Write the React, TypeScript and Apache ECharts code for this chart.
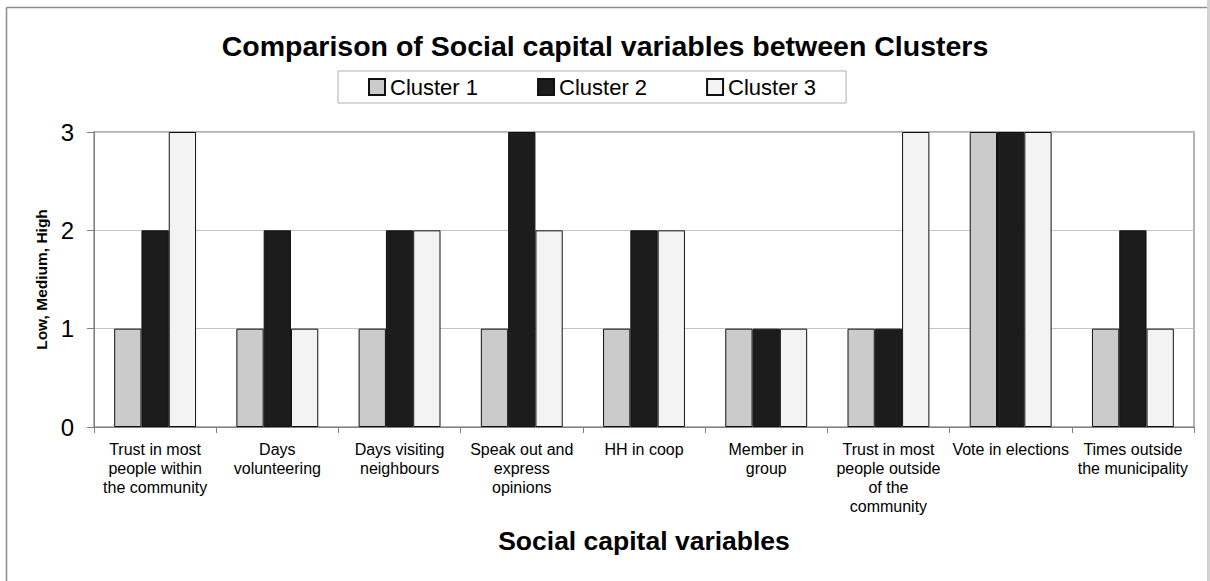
import React, { useEffect, useRef } from "react";
import * as echarts from "echarts";

const categories = [
  "Trust in most\npeople within\nthe community",
  "Days\nvolunteering",
  "Days visiting\nneighbours",
  "Speak out and\nexpress\nopinions",
  "HH in coop",
  "Member in\ngroup",
  "Trust in most\npeople outside\nof the\ncommunity",
  "Vote in elections",
  "Times outside\nthe municipality",
];

const cluster1 = [1, 1, 1, 1, 1, 1, 1, 3, 1];
const cluster2 = [2, 2, 2, 3, 2, 1, 1, 3, 2];
const cluster3 = [3, 1, 2, 2, 2, 1, 3, 3, 1];

const yTicks = [0, 1, 2, 3];

const FONT = "'Liberation Sans', Arial, sans-serif";

export default function App() {
  const ref = useRef<HTMLDivElement>(null);

  useEffect(() => {
    if (!ref.current) return;
    const chart = echarts.init(ref.current, null, { renderer: "svg" });
    const barStyle = (color: string) => ({
      color,
      borderColor: "#111",
      borderWidth: 1,
    });
    chart.setOption({
      animation: false,
      backgroundColor: "#ffffff",
      textStyle: { fontFamily: FONT },
      title: {
        text: "Comparison of Social capital variables between Clusters",
        left: "center",
        top: 26,
        textStyle: { fontFamily: FONT, fontSize: 28.5, fontWeight: "bold", color: "#000" },
      },
      legend: {
        left: 338,
        top: 71,
        padding: [5, 30, 5, 30],
        itemGap: 59,
        itemWidth: 16,
        itemHeight: 16,
        icon: "rect",
        borderColor: "#b0b0b0",
        borderWidth: 1,
        textStyle: { fontFamily: FONT, fontSize: 22, color: "#000" },
        data: ["Cluster 1", "Cluster 2", "Cluster 3"],
      },
      grid: {
        left: 94,
        right: 16,
        top: 132,
        bottom: 154,
        show: true,
        borderColor: "#9a9a9a",
        borderWidth: 1.5,
      },
      xAxis: {
        type: "category",
        data: categories,
        name: "Social capital variables",
        nameLocation: "middle",
        nameGap: 100,
        nameTextStyle: { fontFamily: FONT, fontSize: 26.5, fontWeight: "bold", color: "#000" },
        axisLine: { lineStyle: { color: "#808080", width: 1 } },
        axisTick: { show: true, length: 6, alignWithLabel: false, lineStyle: { color: "#808080" } },
        axisLabel: {
          interval: 0,
          margin: 13,
          fontFamily: FONT,
          fontSize: 16,
          lineHeight: 19,
          color: "#000",
        },
      },
      yAxis: {
        type: "value",
        min: yTicks[0],
        max: yTicks[yTicks.length - 1],
        interval: 1,
        name: "Low, Medium, High",
        nameLocation: "middle",
        nameGap: 44,
        nameTextStyle: { fontFamily: FONT, fontSize: 15.5, fontWeight: "bold", color: "#000" },
        axisLine: { show: true, lineStyle: { color: "#808080", width: 1 } },
        axisTick: { show: true, length: 7, lineStyle: { color: "#808080" } },
        axisLabel: { margin: 20, fontFamily: FONT, fontSize: 24, color: "#000" },
        splitLine: { show: true, lineStyle: { color: "#c4c4c4", width: 1 } },
      },
      series: [
        { name: "Cluster 1", type: "bar", data: cluster1, itemStyle: barStyle("#cbcbcb"), barGap: "0%", barCategoryGap: "33%" },
        { name: "Cluster 2", type: "bar", data: cluster2, itemStyle: barStyle("#1c1c1c"), barGap: "0%", barCategoryGap: "33%" },
        { name: "Cluster 3", type: "bar", data: cluster3, itemStyle: barStyle("#f3f3f3"), barGap: "0%", barCategoryGap: "33%" },
      ],
      graphic: [
        { type: "line", shape: { x1: 6.5, y1: 7.5, x2: 1210, y2: 7.5 }, style: { stroke: "#8c8c8c", lineWidth: 1.5 }, silent: true },
        { type: "line", shape: { x1: 6.5, y1: 7.5, x2: 6.5, y2: 581 }, style: { stroke: "#8c8c8c", lineWidth: 1.5 }, silent: true },
        { type: "rect", shape: { x: 1207, y: 0, width: 3, height: 581 }, style: { fill: "#d2d2d2" }, silent: true },
      ],
    });
    return () => chart.dispose();
  }, []);

  return (
    <div
      ref={ref}
      style={{ position: "fixed", left: 0, top: 0, width: 1210, height: 581, background: "#fff" }}
    />
  );
}
